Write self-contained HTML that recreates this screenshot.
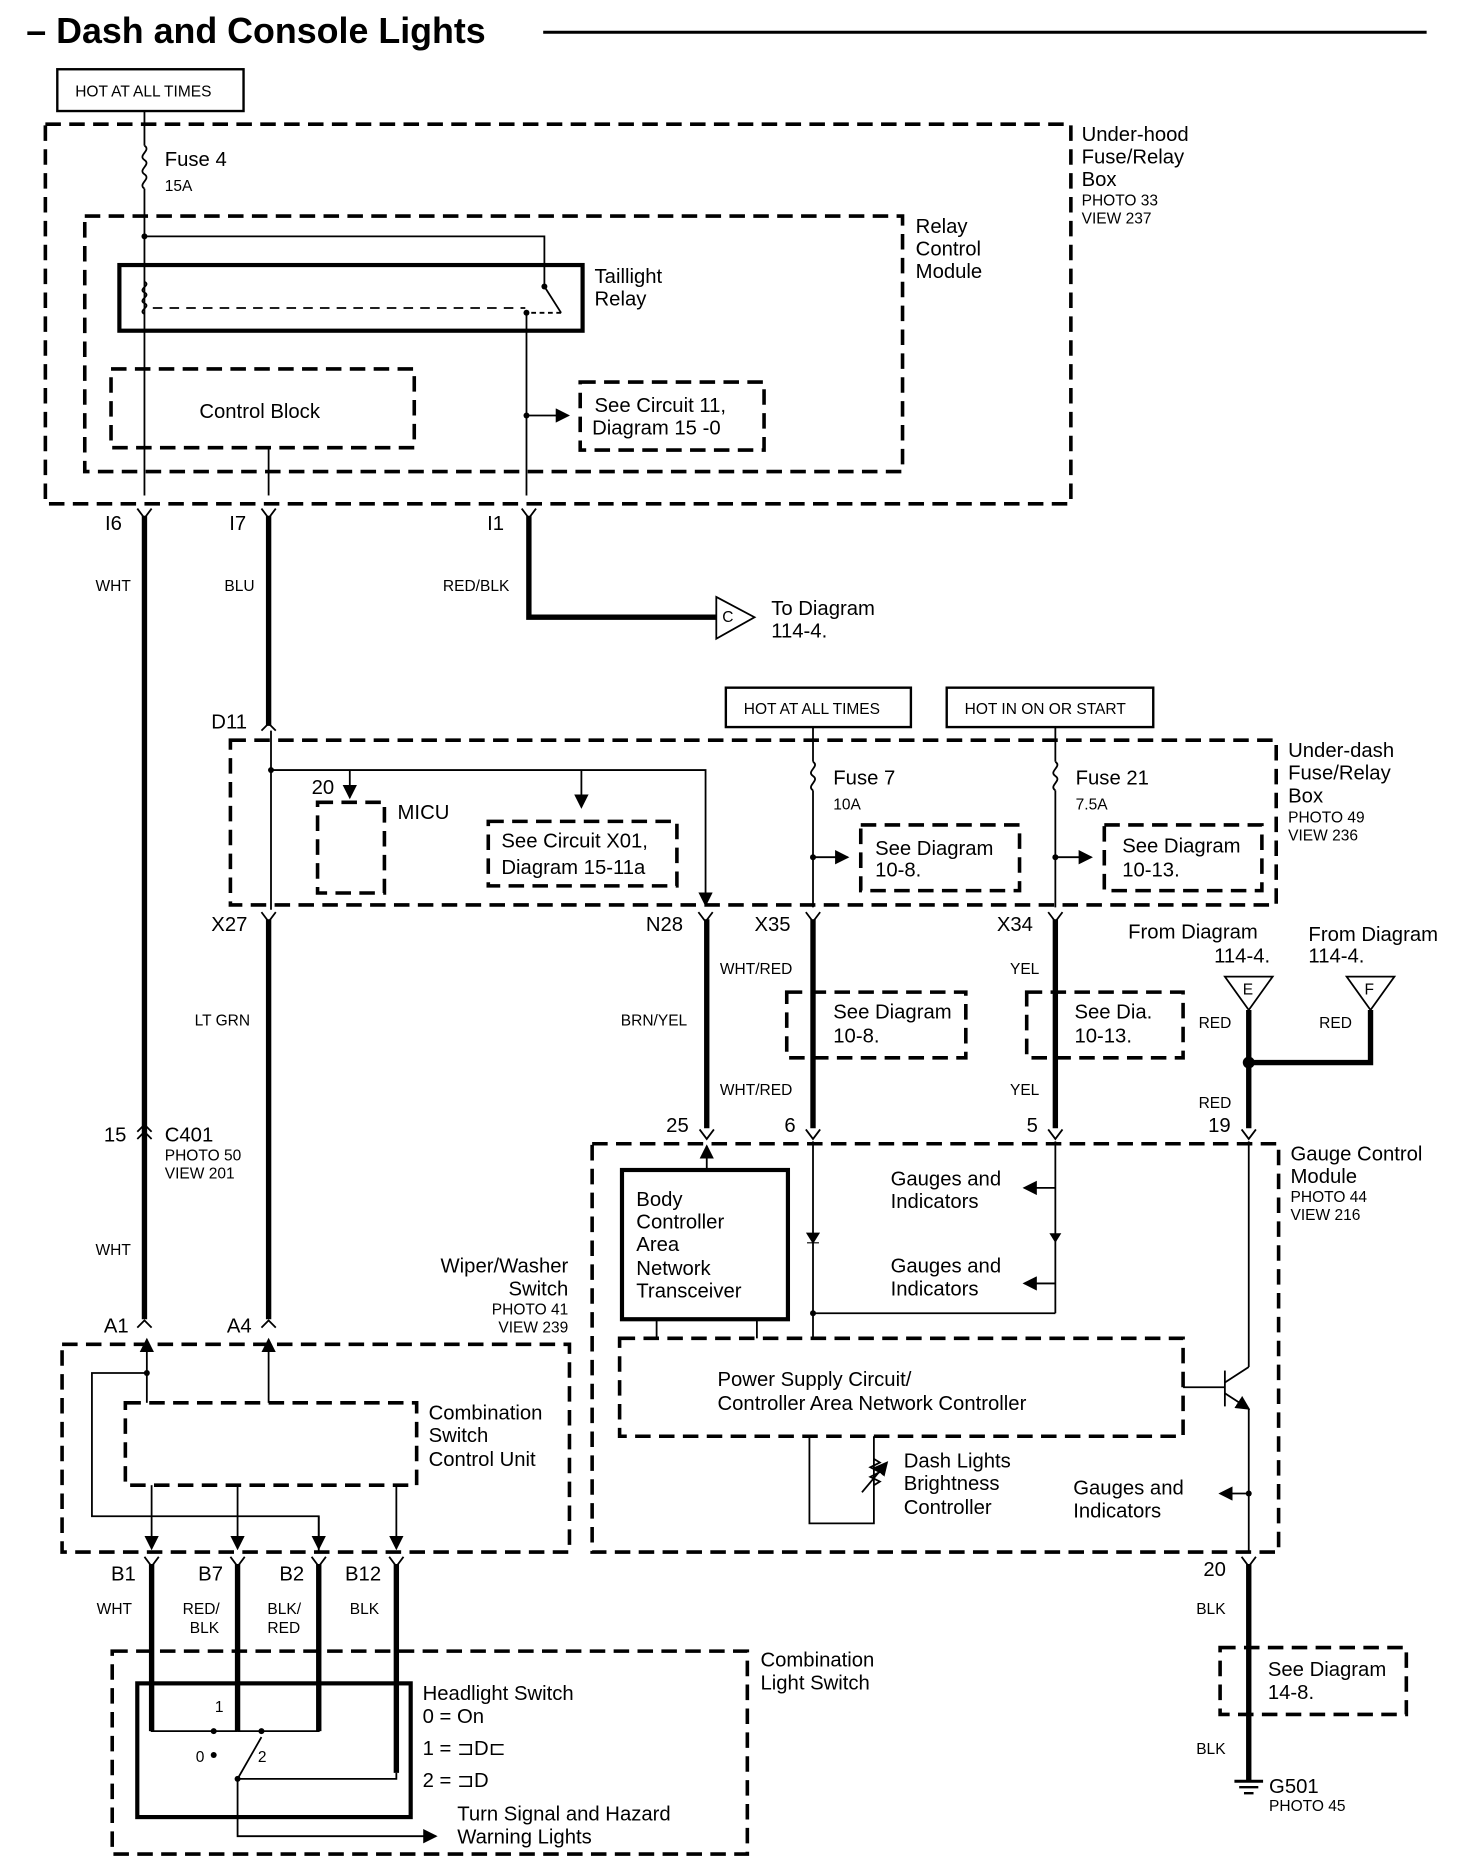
<!DOCTYPE html>
<html><head><meta charset="utf-8">
<style>
html,body{margin:0;padding:0;background:#fff;}
svg{display:block;}
text{font-family:"Liberation Sans",sans-serif;fill:#000;}
.t{font-size:17px;}
.s{font-size:13px;}
.d{fill:none;stroke:#000;stroke-width:3;stroke-dasharray:13,7;}
.w{fill:none;stroke:#000;stroke-width:1.5;}
.W{fill:none;stroke:#000;stroke-width:4.5;}
.b{fill:none;stroke:#000;stroke-width:2;}
</style></head><body>
<svg width="1472" height="1872" viewBox="0 0 1233 1568" preserveAspectRatio="none" xmlns="http://www.w3.org/2000/svg">
<defs>
<marker id="a" markerWidth="8" markerHeight="8" refX="7" refY="4" orient="auto"><path d="M0,0 L8,4 L0,8z" fill="#000"/></marker>
</defs>
<!-- title -->
<text x="22" y="36" style="font-size:30px;font-weight:bold">– Dash and Console Lights</text>
<line x1="455" y1="27" x2="1195" y2="27" stroke="#000" stroke-width="2.5"/>

<!-- top -->
<rect x="48" y="58" width="156" height="35" class="b"/>
<text x="63" y="81" class="s">HOT AT ALL TIMES</text>
<rect x="38" y="104" width="859" height="318" class="d"/>
<text x="906" y="118" class="t">Under-hood</text><text x="906" y="137" class="t">Fuse/Relay</text><text x="906" y="156" class="t">Box</text>
<text x="906" y="172" class="s">PHOTO 33</text><text x="906" y="187" class="s">VIEW 237</text>
<line x1="121" y1="93" x2="121" y2="122" class="w"/>
<path d="M121,122 c6,4 -6,8 0,12 c6,4 -6,8 0,12 c6,4 -6,8 0,12" class="w"/>
<line x1="121" y1="158" x2="121" y2="415" class="w"/>
<text x="138" y="139" class="t">Fuse 4</text><text x="138" y="160" class="s">15A</text>
<rect x="71" y="181" width="685" height="214" class="d"/>
<text x="767" y="195" class="t">Relay</text><text x="767" y="214" class="t">Control</text><text x="767" y="233" class="t">Module</text>
<rect x="100" y="222" width="388" height="55" fill="none" stroke="#000" stroke-width="3.5"/>
<text x="498" y="237" class="t">Taillight</text><text x="498" y="256" class="t">Relay</text>
<circle cx="121" cy="198" r="2.5"/>
<polyline points="121,198 456,198 456,238" class="w"/>
<path d="M121,236 c6,3 -6,6 0,9 c6,3 -6,6 0,9 c6,3 -6,6 0,9" class="w"/>
<line x1="128" y1="258" x2="440" y2="258" class="w" stroke-dasharray="8,6"/>
<circle cx="456" cy="240" r="2.5"/><line x1="456" y1="240" x2="470" y2="262" class="w"/>
<circle cx="441" cy="262" r="2.5"/><line x1="445" y1="262" x2="470" y2="262" class="w" stroke-dasharray="4,3"/>
<line x1="441" y1="262" x2="441" y2="415" class="w"/>
<rect x="93" y="309" width="254" height="66" class="d"/>
<text x="167" y="350" class="t">Control Block</text>
<line x1="225" y1="375" x2="225" y2="415" class="w"/>
<circle cx="441" cy="348" r="2.5"/>
<line x1="441" y1="348" x2="476" y2="348" class="w" marker-end="url(#a)"/>
<rect x="486" y="320" width="154" height="57" class="d" stroke-width="1.5"/>
<text x="498" y="345" class="t">See Circuit 11,</text><text x="496" y="364" class="t">Diagram 15 -0</text>

<!-- connectors row 1 -->
<g class="w"><path d="M115,426 l6,8 l6,-8"/><path d="M219,426 l6,8 l6,-8"/><path d="M437,426 l6,8 l6,-8"/></g>
<text x="88" y="444" class="t">I6</text><text x="192" y="444" class="t">I7</text><text x="408" y="444" class="t">I1</text>
<line x1="121" y1="432" x2="121" y2="1105" class="W"/>
<line x1="225" y1="432" x2="225" y2="608" class="W"/>
<polyline points="443,432 443,517 600,517" class="W"/>
<path d="M600,500 L632,517 L600,535z" fill="#fff" stroke="#000" stroke-width="1.5"/>
<text x="605" y="521" class="s">C</text>
<text x="646" y="515" class="t">To Diagram</text><text x="646" y="534" class="t">114-4.</text>
<text x="80" y="495" class="s">WHT</text><text x="188" y="495" class="s">BLU</text><text x="371" y="495" class="s">RED/BLK</text>

<!-- under-dash -->
<rect x="608" y="576" width="155" height="33" class="b"/><text x="623" y="598" class="s">HOT AT ALL TIMES</text>
<rect x="793" y="576" width="173" height="33" class="b"/><text x="808" y="598" class="s">HOT IN ON OR START</text>
<path d="M219,612 l6,-6 l6,6" class="w"/>
<text x="177" y="610" class="t">D11</text>
<rect x="193" y="620" width="876" height="138" class="d"/>
<text x="1079" y="634" class="t">Under-dash</text><text x="1079" y="653" class="t">Fuse/Relay</text><text x="1079" y="672" class="t">Box</text>
<text x="1079" y="689" class="s">PHOTO 49</text><text x="1079" y="704" class="s">VIEW 236</text>
<line x1="227" y1="612" x2="227" y2="762" class="w"/>
<circle cx="227" cy="645" r="2.5"/>
<polyline points="227,645 591,645 591,758" class="w" marker-end="url(#a)"/>
<line x1="293" y1="645" x2="293" y2="668" class="w" marker-end="url(#a)"/>
<line x1="487" y1="645" x2="487" y2="676" class="w" marker-end="url(#a)"/>
<rect x="266" y="672" width="56" height="76" class="d"/>
<text x="261" y="665" class="t">20</text><text x="333" y="686" class="t">MICU</text>
<rect x="409" y="688" width="158" height="54" class="d" stroke-width="1.5"/>
<text x="420" y="710" class="t">See Circuit X01,</text><text x="420" y="732" class="t">Diagram 15-11a</text>
<line x1="681" y1="609" x2="681" y2="638" class="w"/>
<path d="M681,638 c6,4 -6,8 0,12 c6,4 -6,8 0,12" class="w"/>
<line x1="681" y1="662" x2="681" y2="760" class="w"/>
<text x="698" y="657" class="t">Fuse 7</text><text x="698" y="678" class="s">10A</text>
<circle cx="681" cy="718" r="2.5"/><line x1="681" y1="718" x2="710" y2="718" class="w" marker-end="url(#a)"/>
<rect x="721" y="691" width="133" height="55" class="d" stroke-width="1.5"/>
<text x="733" y="716" class="t">See Diagram</text><text x="733" y="734" class="t">10-8.</text>
<line x1="884" y1="609" x2="884" y2="638" class="w"/>
<path d="M884,638 c6,4 -6,8 0,12 c6,4 -6,8 0,12" class="w"/>
<line x1="884" y1="662" x2="884" y2="760" class="w"/>
<text x="901" y="657" class="t">Fuse 21</text><text x="901" y="678" class="s">7.5A</text>
<circle cx="884" cy="718" r="2.5"/><line x1="884" y1="718" x2="914" y2="718" class="w" marker-end="url(#a)"/>
<rect x="925" y="691" width="132" height="55" class="d" stroke-width="1.5"/>
<text x="940" y="714" class="t">See Diagram</text><text x="940" y="734" class="t">10-13.</text>

<g class="w"><path d="M219,764 l6,8 l6,-8"/><path d="M585,764 l6,8 l6,-8"/><path d="M675,764 l6,8 l6,-8"/><path d="M878,764 l6,8 l6,-8"/></g>
<text x="177" y="780" class="t">X27</text><text x="541" y="780" class="t">N28</text><text x="632" y="780" class="t">X35</text><text x="835" y="780" class="t">X34</text>
<line x1="225" y1="770" x2="225" y2="1105" class="W"/>
<line x1="592" y1="770" x2="592" y2="945" class="W"/>
<line x1="681" y1="770" x2="681" y2="945" class="W"/>
<line x1="884" y1="770" x2="884" y2="945" class="W"/>
<text x="163" y="859" class="s">LT GRN</text><text x="520" y="859" class="s">BRN/YEL</text>
<text x="603" y="816" class="s">WHT/RED</text><text x="603" y="917" class="s">WHT/RED</text>
<text x="846" y="816" class="s">YEL</text><text x="846" y="917" class="s">YEL</text>
<rect x="659" y="831" width="150" height="55" class="d" stroke-width="1.5"/>
<text x="698" y="853" class="t">See Diagram</text><text x="698" y="873" class="t">10-8.</text>
<rect x="860" y="831" width="131" height="55" class="d" stroke-width="1.5"/>
<text x="900" y="853" class="t">See Dia.</text><text x="900" y="873" class="t">10-13.</text>

<!-- from diagram -->
<text x="945" y="786" class="t">From Diagram</text><text x="1017" y="806" class="t">114-4.</text>
<text x="1096" y="788" class="t">From Diagram</text><text x="1096" y="806" class="t">114-4.</text>
<path d="M1026,818 L1066,818 L1046,846z" fill="#fff" stroke="#000" stroke-width="1.5"/><text x="1041" y="833" class="s">E</text>
<path d="M1128,818 L1168,818 L1148,846z" fill="#fff" stroke="#000" stroke-width="1.5"/><text x="1143" y="833" class="s">F</text>
<line x1="1046" y1="846" x2="1046" y2="945" class="W"/>
<polyline points="1046,890 1148,890 1148,846" class="W"/>
<circle cx="1046" cy="890" r="5"/>
<text x="1004" y="861" class="s">RED</text><text x="1105" y="861" class="s">RED</text><text x="1004" y="928" class="s">RED</text>

<!-- C401 -->
<path d="M115,948 l6,-6 l6,6 M115,954 l6,-6 l6,6" class="w"/>
<text x="87" y="956" class="t">15</text><text x="138" y="956" class="t">C401</text>
<text x="138" y="972" class="s">PHOTO 50</text><text x="138" y="987" class="s">VIEW 201</text>
<text x="80" y="1051" class="s">WHT</text>

<!-- gauge module connectors -->
<g class="w"><path d="M586,946 l6,8 l6,-8"/><path d="M675,946 l6,8 l6,-8"/><path d="M878,946 l6,8 l6,-8"/><path d="M1040,946 l6,8 l6,-8"/></g>
<text x="558" y="948" class="t">25</text><text x="657" y="948" class="t">6</text><text x="860" y="948" class="t">5</text><text x="1012" y="948" class="t">19</text>
<rect x="496" y="958" width="575" height="342" class="d"/>
<text x="1081" y="972" class="t">Gauge Control</text><text x="1081" y="991" class="t">Module</text>
<text x="1081" y="1007" class="s">PHOTO 44</text><text x="1081" y="1022" class="s">VIEW 216</text>
<line x1="592" y1="980" x2="592" y2="960" class="w" marker-end="url(#a)"/>
<rect x="521" y="980" width="139" height="125" fill="none" stroke="#000" stroke-width="3.5"/>
<text x="533" y="1010" class="t">Body</text><text x="533" y="1029" class="t">Controller</text><text x="533" y="1048" class="t">Area</text><text x="533" y="1068" class="t">Network</text><text x="533" y="1087" class="t">Transceiver</text>
<line x1="681" y1="956" x2="681" y2="1100" class="w"/>
<path d="M676,1033 l5,8 l5,-8z M676,1041 h10" fill="#000" stroke="#000"/>
<line x1="884" y1="956" x2="884" y2="1100" class="w"/>
<path d="M879,1033 l5,8 l5,-8z" fill="#000"/>
<polyline points="681,1100 884,1100" class="w"/>
<circle cx="681" cy="1100" r="2.5"/>
<line x1="884" y1="995" x2="858" y2="995" class="w" marker-end="url(#a)"/>
<line x1="884" y1="1075" x2="858" y2="1075" class="w" marker-end="url(#a)"/>
<text x="746" y="993" class="t">Gauges and</text><text x="746" y="1012" class="t">Indicators</text>
<text x="746" y="1066" class="t">Gauges and</text><text x="746" y="1085" class="t">Indicators</text>
<line x1="550" y1="1105" x2="550" y2="1121" class="w"/><line x1="634" y1="1105" x2="634" y2="1121" class="w"/>
<line x1="681" y1="1100" x2="681" y2="1121" class="w"/>
<rect x="519" y="1121" width="472" height="82" class="d"/>
<text x="601" y="1161" class="t">Power Supply Circuit/</text><text x="601" y="1181" class="t">Controller Area Network Controller</text>
<polyline points="678,1203 678,1276 732,1276 732,1203" class="w"/>
<line x1="722" y1="1250" x2="743" y2="1225" class="w" marker-end="url(#a)"/>
<path d="M732,1222 l5,3 l-8,4 l8,4 l-8,4 l8,4 l-5,3" class="w"/>
<text x="757" y="1229" class="t">Dash Lights</text><text x="757" y="1248" class="t">Brightness</text><text x="757" y="1268" class="t">Controller</text>
<line x1="991" y1="1162" x2="1026" y2="1162" class="w"/>
<line x1="1026" y1="1148" x2="1026" y2="1178" class="w" stroke-width="2.5"/>
<line x1="1026" y1="1158" x2="1046" y2="1145" class="w"/>
<line x1="1026" y1="1167" x2="1046" y2="1180" class="w" marker-end="url(#a)"/>
<line x1="1046" y1="956" x2="1046" y2="1145" class="w"/>
<line x1="1046" y1="1180" x2="1046" y2="1300" class="w"/>
<circle cx="1046" cy="1251" r="2.5"/>
<line x1="1046" y1="1251" x2="1022" y2="1251" class="w" marker-end="url(#a)"/>
<text x="899" y="1252" class="t">Gauges and</text><text x="899" y="1271" class="t">Indicators</text>
<path d="M1040,1304 l6,8 l6,-8" class="w"/>
<text x="1008" y="1320" class="t">20</text>
<line x1="1046" y1="1310" x2="1046" y2="1492" class="W"/>
<text x="1002" y="1352" class="s">BLK</text><text x="1002" y="1469" class="s">BLK</text>
<rect x="1022" y="1380" width="156" height="56" class="d" stroke-width="1.5"/>
<text x="1062" y="1404" class="t">See Diagram</text><text x="1062" y="1423" class="t">14-8.</text>
<line x1="1034" y1="1492" x2="1058" y2="1492" stroke="#000" stroke-width="2.5"/>
<line x1="1038" y1="1497" x2="1054" y2="1497" stroke="#000" stroke-width="2"/>
<line x1="1042" y1="1502" x2="1050" y2="1502" stroke="#000" stroke-width="2"/>
<text x="1063" y="1502" class="t">G501</text><text x="1063" y="1517" class="s">PHOTO 45</text>

<!-- wiper/washer switch -->
<path d="M115,1112 l6,-6 l6,6 M219,1112 l6,-6 l6,6" class="w"/>
<text x="87" y="1116" class="t">A1</text><text x="190" y="1116" class="t">A4</text>
<text x="476" y="1066" class="t" text-anchor="end">Wiper/Washer</text><text x="476" y="1085" class="t" text-anchor="end">Switch</text>
<text x="476" y="1101" class="s" text-anchor="end">PHOTO 41</text><text x="476" y="1116" class="s" text-anchor="end">VIEW 239</text>
<rect x="52" y="1126" width="425" height="174" class="d"/>
<line x1="123" y1="1150" x2="123" y2="1122" class="w" marker-end="url(#a)"/>
<line x1="225" y1="1175" x2="225" y2="1122" class="w" marker-end="url(#a)"/>
<circle cx="123" cy="1150" r="2.5"/>
<polyline points="123,1150 77,1150 77,1270 267,1270 267,1300" class="w"/>
<line x1="123" y1="1150" x2="123" y2="1175" class="w"/>
<rect x="105" y="1175" width="244" height="69" class="d"/>
<text x="359" y="1189" class="t">Combination</text><text x="359" y="1208" class="t">Switch</text><text x="359" y="1228" class="t">Control Unit</text>
<line x1="127" y1="1244" x2="127" y2="1297" class="w" marker-end="url(#a)"/>
<line x1="199" y1="1244" x2="199" y2="1297" class="w" marker-end="url(#a)"/>
<line x1="332" y1="1244" x2="332" y2="1297" class="w" marker-end="url(#a)"/>
<line x1="267" y1="1270" x2="267" y2="1297" class="w" marker-end="url(#a)"/>
<g class="w"><path d="M121,1304 l6,8 l6,-8"/><path d="M193,1304 l6,8 l6,-8"/><path d="M261,1304 l6,8 l6,-8"/><path d="M326,1304 l6,8 l6,-8"/></g>
<text x="93" y="1324" class="t">B1</text><text x="166" y="1324" class="t">B7</text><text x="234" y="1324" class="t">B2</text><text x="289" y="1324" class="t">B12</text>
<line x1="127" y1="1310" x2="127" y2="1450" class="W"/>
<line x1="199" y1="1310" x2="199" y2="1450" class="W"/>
<line x1="267" y1="1310" x2="267" y2="1450" class="W"/>
<line x1="332" y1="1310" x2="332" y2="1485" class="W"/>
<text x="81" y="1352" class="s">WHT</text><text x="153" y="1352" class="s">RED/</text><text x="159" y="1368" class="s">BLK</text>
<text x="224" y="1352" class="s">BLK/</text><text x="224" y="1368" class="s">RED</text><text x="293" y="1352" class="s">BLK</text>

<!-- combination light switch -->
<rect x="94" y="1383" width="532" height="170" class="d"/>
<text x="637" y="1396" class="t">Combination</text><text x="637" y="1415" class="t">Light Switch</text>
<rect x="115" y="1410" width="229" height="112" fill="none" stroke="#000" stroke-width="3.5"/>
<polyline points="127,1410 127,1450 199,1450" class="w"/>
<polyline points="267,1410 267,1450 199,1450" class="w"/>
<line x1="199" y1="1410" x2="199" y2="1450" class="w"/>
<circle cx="179" cy="1450" r="2.5"/><circle cx="219" cy="1450" r="2.5"/>
<circle cx="179" cy="1470" r="2.5"/><circle cx="199" cy="1490" r="2.5"/>
<line x1="199" y1="1490" x2="219" y2="1455" class="w"/>
<polyline points="199,1490 332,1490 332,1485" class="w"/>
<text x="180" y="1434" class="s">1</text><text x="164" y="1476" class="s">0</text><text x="216" y="1476" class="s">2</text>
<polyline points="199,1490 199,1538 365,1538" class="w" marker-end="url(#a)"/>
<text x="354" y="1424" class="t">Headlight Switch</text>
<text x="354" y="1443" class="t">0 = On</text>
<text x="354" y="1470" class="t">1 = ⊐D⊏</text>
<text x="354" y="1497" class="t">2 = ⊐D</text>
<text x="383" y="1525" class="t">Turn Signal and Hazard</text><text x="383" y="1544" class="t">Warning Lights</text>
</svg>
</body></html>
